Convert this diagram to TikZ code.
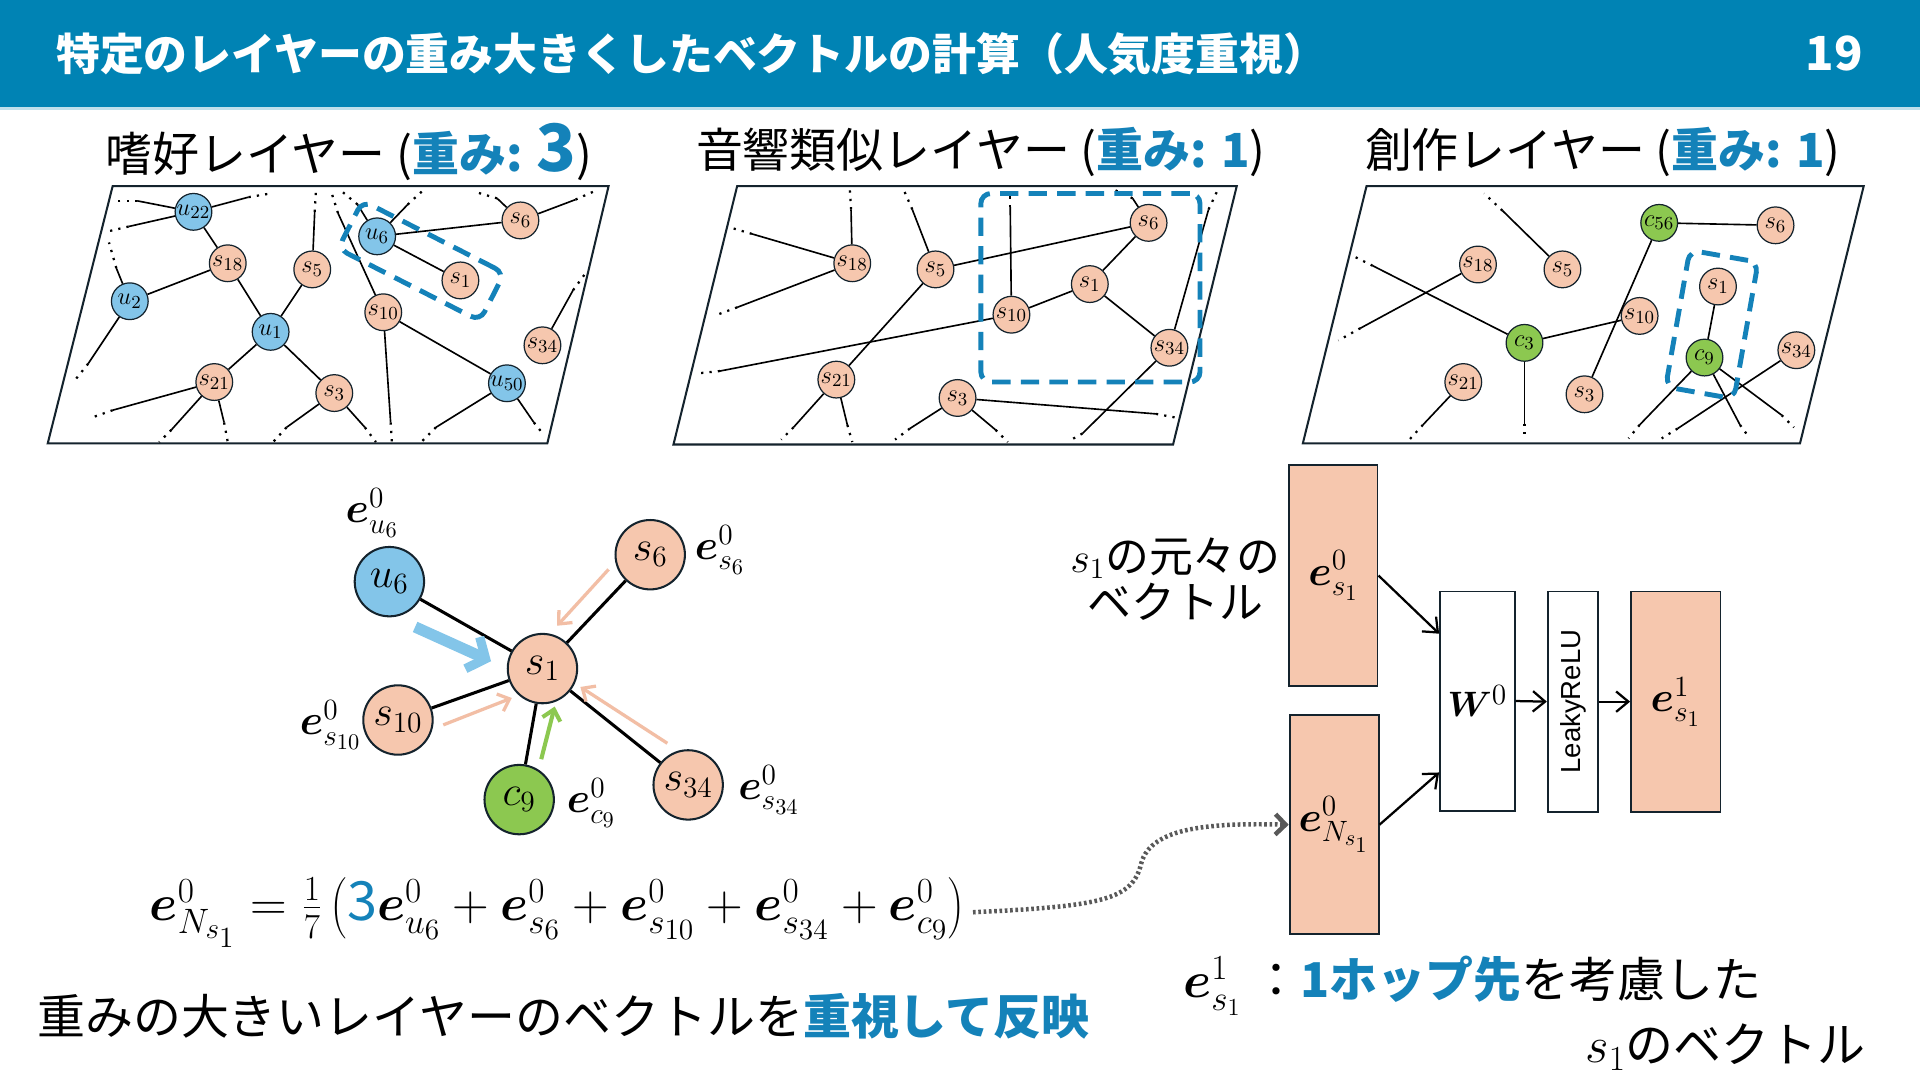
\documentclass[tikz,border=0pt]{standalone}
\usepackage[no-math]{fontspec}
\setmainfont{Noto Sans CJK JP}
\newfontfamily\arialf{Liberation Sans}
\usepackage{bm}
\usetikzlibrary{arrows.meta}
\definecolor{hdr}{RGB}{0,131,180}
\definecolor{acc}{RGB}{20,130,185}
\definecolor{peach}{RGB}{246,199,174}
\definecolor{peachd}{RGB}{242,190,165}
\definecolor{sky}{RGB}{131,197,233}
\definecolor{leaf}{RGB}{140,200,80}
\definecolor{edgec}{RGB}{20,35,45}
\newcommand\fs[1]{\fontsize{#1}{#1}\selectfont}
\newcommand\stub[3]{\draw[pe] (#1) -- (#2) coordinate (stubmid); \draw[pdot] (stubmid) -- (#3);}
\begin{document}
\begin{tikzpicture}[x=0.6pt,y=-0.6pt,
  pn/.style={circle,draw=edgec,line width=0.6pt,minimum size=18pt,inner sep=0pt,font=\fs{12.5}},
  ps/.style={pn,fill=peach}, pu/.style={pn,fill=sky}, pc/.style={pn,fill=leaf},
  bn/.style={circle,draw=edgec,line width=1pt,minimum size=34pt,inner sep=0pt,font=\fs{22}},
  pe/.style={line width=0.8pt,black},
  pdot/.style={line width=1.1pt,black,dash pattern=on 1.1pt off 3pt},
  frame/.style={line width=1pt,edgec},
  dbox/.style={draw=acc,line width=2.4pt,dash pattern=on 9pt off 5pt,rounded corners=5pt,inner sep=0pt},
  ptitle/.style={font=\fs{23}},
  box/.style={draw=edgec,line width=0.9pt,inner sep=0pt},
  arr/.style={line width=1.1pt,-{Straight Barb[length=6pt,width=10pt]}},
  star/.style={line width=1.5pt}]
\useasboundingbox (0,0) rectangle (1568,882);
\fill[white] (0,0) rectangle (1568,882);
% header
\fill[hdr] (0,0) rectangle (1568,87);
\fill[hdr!25] (0,87) rectangle (1568,89.5);
\node[anchor=west,text=white,font=\fs{21.5}\bfseries] (title) at (40,44) {特定のレイヤーの重み大きくしたベクトルの計算（人気度重視）};
\node[anchor=east,text=white,font=\fs{23}\bfseries] (pg) at (1527,44) {19};
% panel titles
\node[ptitle] (t1) at (285,124) {嗜好レイヤー (\textcolor{acc}{\bfseries 重み: {\fs{32}3}})};
\node[ptitle] (t2) at (801,124) {音響類似レイヤー (\textcolor{acc}{\bfseries 重み: 1})};
\node[ptitle] (t3) at (1309,124) {創作レイヤー (\textcolor{acc}{\bfseries 重み: 1})};
% ---------- panel 1
\draw[frame] (92,152) -- (497,152) -- (447,362) -- (39,362) -- cycle;
\node[pu] (a22) at (158,173) {$u_{22}$};
\node[ps] (a18) at (186,215) {$s_{18}$};
\node[ps] (a5) at (255,220) {$s_5$};
\node[pu] (a6u) at (308,193) {$u_6$};
\node[ps] (a6) at (425,180) {$s_6$};
\node[ps] (a1) at (376,229) {$s_1$};
\node[pu] (a2) at (106,246) {$u_2$};
\node[pu] (a1u) at (221,271) {$u_1$};
\node[ps] (a10) at (313,255) {$s_{10}$};
\node[ps] (a34) at (443,282) {$s_{34}$};
\node[ps] (a21) at (175,312) {$s_{21}$};
\node[ps] (a3) at (273,321) {$s_3$};
\node[pu] (a50) at (414,313) {$u_{50}$};
\stub{a22}{112,164}{94,164}
\stub{a22}{203,161}{221,158}
\stub{a22}{105,185}{88,189}
\draw[pe] (a22) -- (a18);
\stub{a2}{95,219}{89,198}
\draw[pe] (a2) -- (a18);
\stub{a2}{72,297}{60,312}
\draw[pe] (a18) -- (a1u);
\draw[pe] (a5) -- (a1u);
\stub{a5}{257,173}{258,155}
\stub{a6u}{292,167}{280,157}
\stub{a6u}{333,167}{346,155}
\draw[pe] (a6u) -- (a6);
\draw[pe] (a6u) -- (a1);
\stub{a10}{276,174}{270,155}
\stub{a6}{406,162}{389,157}
\stub{a6}{470,163}{488,155}
\draw[pe] (a10) -- (a50);
\stub{a10}{319,345}{320,361}
\stub{a50}{356,349}{344,361}
\stub{a50}{436,345}{444,355}
\stub{a34}{468,237}{479,222}
\draw[pe] (a1u) -- (a21);
\draw[pe] (a1u) -- (a3);
\stub{a21}{92,335}{75,341}
\stub{a21}{140,351}{130,361}
\stub{a21}{183,345}{186,361}
\stub{a3}{234,349}{223,361}
\stub{a3}{298,349}{307,361}
\node[dbox,minimum width=78pt,minimum height=26.4pt,rotate=-27] (d1) at (344,213) {};
% ---------- panel 2
\draw[frame] (602,152) -- (1010,152) -- (958,363) -- (550,363) -- cycle;
\node[ps] (b18) at (696,215) {$s_{18}$};
\node[ps] (b5) at (764,220) {$s_5$};
\node[ps] (b6) at (938,182) {$s_6$};
\node[ps] (b1) at (890,232) {$s_1$};
\node[ps] (b10) at (826,257) {$s_{10}$};
\node[ps] (b34) at (955,284) {$s_{34}$};
\node[ps] (b21) at (683,310) {$s_{21}$};
\node[ps] (b3) at (782,325) {$s_3$};
\stub{b18}{695,171}{694,155}
\stub{b18}{614,191}{597,186}
\stub{b18}{602,251}{583,258}
\stub{b5}{745,171}{738,155}
\draw[pe] (b5) -- (b6);
\draw[pe] (b5) -- (b21);
\stub{b10}{825,169}{825,159}
\draw[pe] (b10) -- (b1);
\stub{b10}{588,303}{569,305}
\draw[pe] (b1) -- (b6);
\draw[pe] (b1) -- (b34);
\stub{b6}{925,162}{910,155}
\stub{b34}{987,171}{995,154}
\stub{b34}{884,354}{875,359}
\stub{b3}{944,338}{960,341}
\stub{b3}{743,350}{731,359}
\stub{b3}{813,351}{823,361}
\stub{b21}{648,349}{638,359}
\stub{b21}{692,347}{696,361}
\node[dbox,minimum width=107.4pt,minimum height=92.4pt] (d2) at (890.5,235) {};
% ---------- panel 3
\draw[frame] (1116,152) -- (1522,152) -- (1470,362) -- (1064,362) -- cycle;
\node[pc] (cc56) at (1355,182) {$c_{56}$};
\node[ps] (cs6) at (1450,184) {$s_6$};
\node[ps] (cs18) at (1207,216) {$s_{18}$};
\node[ps] (cs5) at (1276,220) {$s_5$};
\node[ps] (cs1) at (1403,234) {$s_1$};
\node[ps] (cs10) at (1339,258) {$s_{10}$};
\node[pc] (cc3) at (1245,280) {$c_3$};
\node[pc] (cc9) at (1392,292) {$c_9$};
\node[ps] (cs34) at (1467,286) {$s_{34}$};
\node[ps] (cs21) at (1195,312) {$s_{21}$};
\node[ps] (cs3) at (1294,322) {$s_3$};
\stub{cs5}{1227,172}{1212,158}
\stub{cs18}{1111,268}{1093,278}
\stub{cc3}{1121,217}{1107,210}
\draw[pe] (cc3) -- (cs10);
\stub{cc3}{1245,346}{1245,358}
\draw[pe] (cc56) -- (cs6);
\draw[pe] (cc56) -- (cs3);
\draw[pe] (cs1) -- (cc9);
\stub{cc9}{1339,347}{1330,358}
\stub{cc9}{1421,347}{1429,358}
\stub{cc9}{1455,339}{1465,349}
\stub{cs34}{1370,350}{1357,358}
\stub{cs21}{1162,347}{1151,359}
\node[dbox,minimum width=34pt,minimum height=68pt,rotate=-10] (d3) at (1398,265) {};
% ---------- star graph
\node[bn,fill=sky] (Su6) at (318,475) {$u_6$};
\node[bn,fill=peach] (Ss6) at (531,453) {$s_6$};
\node[bn,fill=peach] (Ss1) at (443,546) {$s_1$};
\node[bn,fill=peach] (Ss10) at (325,588) {$s_{10}$};
\node[bn,fill=leaf] (Sc9) at (424,653) {$c_9$};
\node[bn,fill=peach] (Ss34) at (562,641) {$s_{34}$};
\draw[star] (Su6) -- (Ss1);
\draw[star] (Ss6) -- (Ss1);
\draw[star] (Ss10) -- (Ss1);
\draw[star] (Sc9) -- (Ss1);
\draw[star] (Ss34) -- (Ss1);
\node[font=\fs{22}] (Lu6) at (304,419) {$\bm{e}^0_{u_6}$};
\node[font=\fs{22}] (Ls6) at (588,449) {$\bm{e}^0_{s_6}$};
\node[font=\fs{22}] (Ls10) at (270,592) {$\bm{e}^0_{s_{10}}$};
\node[font=\fs{22}] (Lc9) at (483,656) {$\bm{e}^0_{c_9}$};
\node[font=\fs{22}] (Ls34) at (628,645) {$\bm{e}^0_{s_{34}}$};
\coordinate (bu1) at (339,512); \coordinate (bu2) at (401,540);
\coordinate (p61) at (497,465); \coordinate (p62) at (455,511);
\coordinate (p101) at (362,592); \coordinate (p102) at (418,570);
\coordinate (p341) at (545,607); \coordinate (p342) at (474,561);
\coordinate (g1) at (442,620); \coordinate (g2) at (453,577);
\draw[sky,line width=5.5pt,-{Straight Barb[length=7pt,width=17pt,line width=4.5pt]}] (bu1) -- (bu2);
\draw[peachd,line width=1.6pt,-{Straight Barb[length=5pt,width=9pt]}] (p61) -- (p62);
\draw[peachd,line width=1.6pt,-{Straight Barb[length=5pt,width=9pt]}] (p101) -- (p102);
\draw[peachd,line width=1.6pt,-{Straight Barb[length=5pt,width=9pt]}] (p341) -- (p342);
\draw[leaf,line width=2pt,-{Straight Barb[length=5pt,width=9pt]}] (g1) -- (g2);
% formula
\node[anchor=west,font=\fs{26.5},inner sep=0pt] (form) at (122,745) {$\bm{e}^0_{N_{s_1}}=\frac{1}{7}\left(\textcolor{acc}{\mbox{3}}\bm{e}^0_{u_6}+\bm{e}^0_{s_6}+\bm{e}^0_{s_{10}}+\bm{e}^0_{s_{34}}+\bm{e}^0_{c_9}\right)$};
% right network
\node[box,fill=peach,minimum width=43.2pt,minimum height=108pt,font=\fs{22}] (e0) at (1089,470) {$\bm{e}^0_{s_1}$};
\node[box,fill=peach,minimum width=43.6pt,minimum height=107.4pt,font=\fs{22}] (eN) at (1089.5,673.5) {$\bm{e}^0_{N_{s_1}}$};
\node[box,fill=white,minimum width=36.6pt,minimum height=107.4pt,font=\fs{19}] (W) at (1206.5,572.5) {$\bm{W}^0$};
\node[box,fill=white,minimum width=24.6pt,minimum height=108pt] (L) at (1284.5,573) {};
\node[rotate=90,font=\arialf\fs{13.5}] (Lt) at (L.center) {LeakyReLU};
\node[box,fill=peach,minimum width=43.8pt,minimum height=108pt,font=\fs{22}] (e1) at (1368.5,573) {$\bm{e}^1_{s_1}$};
\draw[arr] (e0.east) -- ([yshift=33pt]W.west);
\draw[arr] (eN.east) -- ([yshift=-35pt]W.west);
\draw[arr] (W.east) -- (L.west);
\draw[arr] (L.east) -- (e1.west);
\node[align=center,inner sep=0pt,font=\fontsize{21.5}{22.5}\selectfont] (orig) at (960,473) {$s_1$の元々の\\ベクトル};
\draw[line width=2.2pt,black!65,dash pattern=on 1.3pt off 1.3pt,-{Straight Barb[length=5pt,width=10pt]}]
  ([xshift=4pt]form.east) .. controls (900,740) and (925,735) .. (932,705) .. controls (940,675) and (990,672) .. (eN.west);
% bottom texts
\node[anchor=west,inner sep=0pt,font=\fs{23.5}] (bl) at (30,830) {重みの大きいレイヤーのベクトルを\textcolor{acc}{\bfseries 重視して反映}};
\node[anchor=west,inner sep=0pt,font=\fs{23.5}] (br1) at (966,805) {$\bm{e}^1_{s_1}$ ：\textcolor{acc}{\bfseries 1ホップ先}を考慮した};
\node[anchor=east,inner sep=0pt,font=\fs{23.5}] (br2) at (1524,855) {$s_1$のベクトル};
\end{tikzpicture}
\end{document}
